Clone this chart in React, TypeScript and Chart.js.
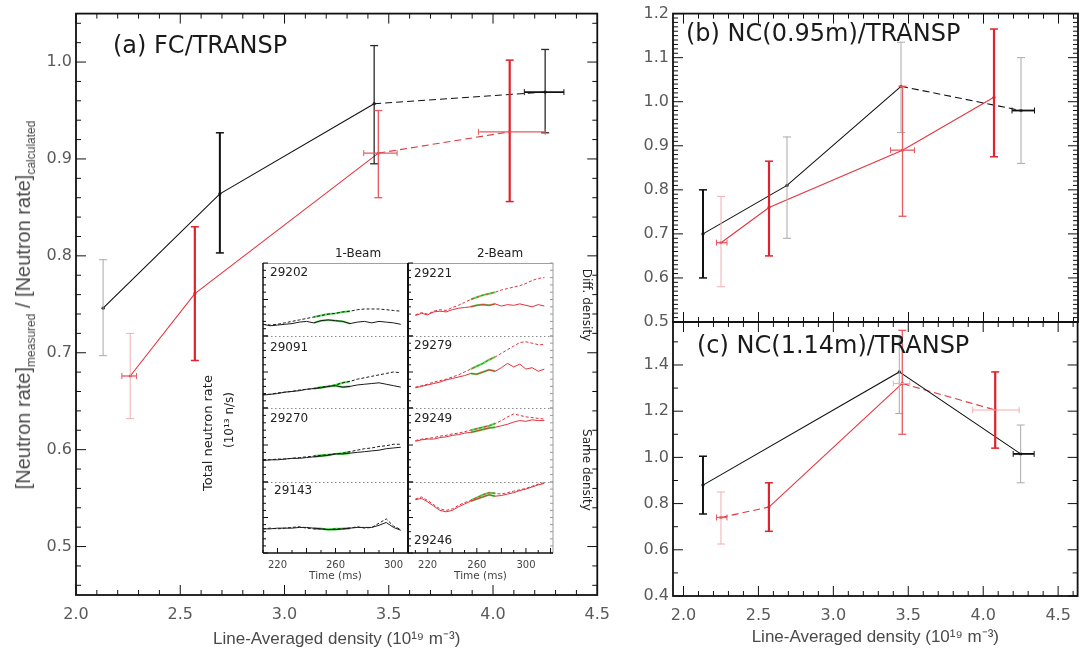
import React, { useEffect, useRef } from "react";
import { Chart, registerables } from "chart.js";
Chart.register(...registerables);

// ---------------- DATA ----------------
const DENSITY_TICKS = [2.0, 2.5, 3.0, 3.5, 4.0, 4.5];
const A_Y_TICKS = [0.5, 0.6, 0.7, 0.8, 0.9, 1.0];
const B_Y_TICKS = [0.5, 0.6, 0.7, 0.8, 0.9, 1.0, 1.1, 1.2];
const C_Y_TICKS = [0.4, 0.6, 0.8, 1.0, 1.2, 1.4];
const TIME_TICKS = [220, 260, 300];

// (a) FC/TRANSP
const aBlackX = [2.13, 2.69, 3.43, 4.25];
const aBlackY = [0.746, 0.864, 0.957, 0.969];
const aBlackYLo = [0.697, 0.803, 0.895, 0.927];
const aBlackYHi = [0.796, 0.927, 1.017, 1.013];
const aBlackXLo = [null, null, null, 4.15];
const aBlackXHi = [null, null, null, 4.34];
const aRedX = [2.26, 2.57, 3.45, 4.08];
const aRedY = [0.676, 0.761, 0.906, 0.928];
const aRedYLo = [0.632, 0.692, 0.86, 0.856];
const aRedYHi = [0.72, 0.83, 0.95, 1.002];
const aRedXLo = [2.22, null, 3.38, 3.93];
const aRedXHi = [2.29, null, 3.54, 4.25];

// (b) NC(0.95m)/TRANSP
const bBlackX = [2.13, 2.69, 3.45, 4.25];
const bBlackY = [0.70, 0.81, 1.035, 0.98];
const bBlackYLo = [0.60, 0.69, 0.93, 0.86];
const bBlackYHi = [0.80, 0.92, 1.135, 1.10];
const bBlackXLo = [null, null, null, 4.19];
const bBlackXHi = [null, null, null, 4.34];
const bRedX = [2.25, 2.57, 3.46, 4.07];
const bRedY = [0.68, 0.76, 0.89, 1.01];
const bRedYLo = [0.58, 0.65, 0.74, 0.875];
const bRedYHi = [0.785, 0.865, 1.035, 1.165];
const bRedXLo = [2.22, null, 3.38, null];
const bRedXHi = [2.29, null, 3.54, null];

// (c) NC(1.14m)/TRANSP
const cBlackX = [2.13, 3.44, 4.25];
const cBlackY = [0.88, 1.37, 1.015];
const cBlackYLo = [0.755, 1.19, 0.89];
const cBlackYHi = [1.005, 1.52, 1.14];
const cBlackXLo = [null, null, 4.2];
const cBlackXHi = [null, null, 4.34];
const cRedX = [2.25, 2.57, 3.46, 4.08];
const cRedY = [0.74, 0.785, 1.32, 1.205];
const cRedYLo = [0.625, 0.68, 1.10, 1.04];
const cRedYHi = [0.85, 0.89, 1.55, 1.37];
const cRedXLo = [2.22, null, 3.40, 3.93];
const cRedXHi = [2.29, null, 3.51, 4.24];

// Inset: total neutron rate traces (arbitrary units per row)
const LEFT_SHOTS = ["29202", "29091", "29270", "29143"];
const RIGHT_SHOTS = ["29221", "29279", "29249", "29246"];
const LEFT_TIMES = [210, 215, 220, 225, 230, 235, 240, 245, 250, 255, 260, 265, 270, 275, 280, 285, 290, 295, 300, 305];
const RIGHT_TIMES = [210, 215, 220, 225, 230, 235, 240, 245, 250, 255, 260, 265, 270, 275, 280, 285, 290, 295, 300, 305, 310, 315];
const LEFT_GREEN = [245, 270];
const RIGHT_GREEN = [255, 275];

const L1_UPPER = [1.6, 1.5, 1.6, 1.8, 2.0, 2.2, 2.4, 2.6, 2.8, 3.0, 3.1, 3.3, 3.4, 3.6, 3.7, 3.7, 3.7, 3.6, 3.5, 3.4];
const L1_LOWER = [1.6, 1.4, 1.5, 1.6, 1.7, 1.9, 2.0, 1.8, 2.1, 2.2, 2.1, 2.0, 1.7, 1.9, 2.0, 1.8, 2.0, 1.9, 1.8, 1.6];
const L2_UPPER = [1.9, 1.9, 2.1, 2.2, 2.3, 2.5, 2.6, 2.7, 2.9, 3.0, 3.2, 3.5, 3.7, 4.0, 4.2, 4.4, 4.6, 4.8, 5.0, 4.9];
const L2_LOWER = [1.8, 1.9, 2.0, 2.2, 2.3, 2.4, 2.6, 2.7, 2.8, 3.0, 3.1, 2.9, 3.0, 3.2, 3.3, 3.4, 3.5, 3.3, 3.1, 2.9];
const L3_UPPER = [3.0, 3.0, 3.1, 3.1, 3.2, 3.3, 3.4, 3.5, 3.6, 3.7, 3.8, 3.9, 4.1, 4.3, 4.5, 4.6, 4.8, 4.9, 5.1, 5.1];
const L3_LOWER = [2.9, 3.0, 3.0, 3.1, 3.2, 3.2, 3.3, 3.4, 3.5, 3.6, 3.8, 3.8, 3.9, 4.0, 4.1, 4.2, 4.3, 4.5, 4.6, 4.7];
const L4_UPPER = [3.4, 3.5, 3.4, 3.5, 3.6, 3.7, 3.5, 3.4, 3.4, 3.3, 3.4, 3.4, 3.5, 3.7, 3.5, 3.6, 4.2, 4.8, 3.8, 3.3];
const L4_LOWER = [3.4, 3.4, 3.5, 3.5, 3.5, 3.6, 3.6, 3.5, 3.4, 3.3, 3.3, 3.4, 3.5, 3.6, 3.6, 3.6, 3.9, 4.3, 3.6, 3.2];

const R1_UPPER = [2.9, 3.2, 3.0, 3.4, 3.6, 3.5, 3.9, 4.2, 4.6, 5.0, 5.3, 5.6, 5.8, 6.0, 6.3, 6.5, 6.7, 6.9, 7.2, 7.6, 7.9, 8.0];
const R1_LOWER = [2.8, 3.1, 2.9, 3.3, 3.4, 3.3, 3.6, 3.8, 3.9, 4.0, 4.2, 4.3, 4.2, 4.4, 4.1, 4.3, 4.2, 4.4, 4.2, 4.0, 4.3, 4.1];
const R2_UPPER = [2.9, 3.1, 3.3, 3.6, 3.8, 4.0, 4.3, 4.6, 5.0, 5.4, 5.8, 6.2, 6.7, 7.1, 7.6, 8.1, 8.6, 9.1, 9.2, 9.0, 8.8, 8.8];
const R2_LOWER = [2.8, 3.0, 3.2, 3.4, 3.6, 3.9, 4.1, 4.3, 4.5, 4.8, 4.7, 5.0, 5.3, 5.1, 5.6, 6.2, 5.7, 6.1, 5.4, 5.6, 5.1, 5.4];
const R3_UPPER = [5.6, 5.8, 5.9, 6.0, 6.2, 6.3, 6.5, 6.6, 6.8, 7.0, 7.2, 7.4, 7.6, 7.9, 8.3, 8.8, 9.2, 9.0, 8.8, 8.7, 8.6, 8.5];
const R3_LOWER = [5.5, 5.7, 5.8, 5.8, 6.0, 6.1, 6.3, 6.4, 6.6, 6.7, 6.9, 7.1, 7.3, 7.4, 7.6, 7.8, 8.1, 8.3, 8.2, 8.4, 8.3, 8.3];
const R4_UPPER = [7.6, 7.9, 7.4, 6.8, 6.2, 6.0, 6.2, 6.7, 7.1, 7.4, 7.8, 8.2, 8.5, 8.4, 8.3, 8.5, 8.7, 8.9, 9.1, 9.4, 9.7, 9.9];
const R4_LOWER = [7.5, 7.7, 7.2, 6.6, 6.0, 5.8, 6.0, 6.5, 6.9, 7.3, 7.6, 7.9, 8.2, 8.0, 8.1, 8.3, 8.5, 8.8, 9.0, 9.3, 9.6, 9.8];

// ---------------- STYLES / HELPERS ----------------
const TICK_FONT = "DejaVu Sans";
const TITLE_FONT = "Liberation Sans";
const BLACK = "#111111";
const RED = "#e3363f";
const GREEN = "#4fdc4f";
const ERR_STYLES: Record<string, [string, number]> = {
  k2: ["#111111", 2],
  k1: ["#2a2a2a", 1.3],
  g: ["#a9a9a9", 1],
  r2: ["#e1222c", 2.2],
  r1: ["#e65a62", 1.3],
  p: ["#f3aeb0", 1],
};

function strokeLine(ctx: CanvasRenderingContext2D, x1: number, y1: number, x2: number, y2: number) {
  ctx.beginPath();
  ctx.moveTo(x1, y1);
  ctx.lineTo(x2, y2);
  ctx.stroke();
}

function framePlugin(p: { xMajor: number; xMinor: number; yMajor: number; yMinor: number }) {
  return {
    id: "idlframe",
    afterDraw(chart: any) {
      const { ctx, chartArea: a } = chart;
      const xs = chart.scales.x;
      const ys = chart.scales.y;
      ctx.save();
      ctx.strokeStyle = "#111";
      ctx.lineWidth = 1;
      const xr = Math.round(p.xMajor / p.xMinor);
      for (let n = Math.ceil(xs.min / p.xMinor - 1e-6); n <= Math.floor(xs.max / p.xMinor + 1e-6); n++) {
        const px = xs.getPixelForValue(n * p.xMinor);
        const L = n % xr === 0 ? 10 : 5;
        strokeLine(ctx, px, a.bottom, px, a.bottom - L);
        strokeLine(ctx, px, a.top, px, a.top + L);
      }
      const yr = Math.round(p.yMajor / p.yMinor);
      for (let n = Math.ceil(ys.min / p.yMinor - 1e-6); n <= Math.floor(ys.max / p.yMinor + 1e-6); n++) {
        const py = ys.getPixelForValue(n * p.yMinor);
        const L = n % yr === 0 ? 10 : 5;
        strokeLine(ctx, a.left, py, a.left + L, py);
        strokeLine(ctx, a.right, py, a.right - L, py);
      }
      ctx.lineWidth = 1.8;
      ctx.strokeRect(a.left, a.top, a.right - a.left, a.bottom - a.top);
      ctx.restore();
    },
  };
}

const errPlugin = {
  id: "errbars",
  afterDatasetsDraw(chart: any) {
    const ctx: CanvasRenderingContext2D = chart.ctx;
    const xs = chart.scales.x;
    const ys = chart.scales.y;
    chart.data.datasets.forEach((ds: any) => {
      const e = ds.err;
      if (!e) return;
      e.xs.forEach((xv: number, i: number) => {
        const px = xs.getPixelForValue(xv);
        const py = ys.getPixelForValue(e.ys[i]);
        ctx.save();
        if (e.yLo[i] != null && e.vStyles[i]) {
          const [col, lw] = ERR_STYLES[e.vStyles[i]];
          ctx.strokeStyle = col;
          ctx.lineWidth = lw;
          const a = ys.getPixelForValue(e.yLo[i]);
          const b = ys.getPixelForValue(e.yHi[i]);
          strokeLine(ctx, px, a, px, b);
          ctx.lineWidth = Math.min(lw, 1.5);
          strokeLine(ctx, px - 4, a, px + 4, a);
          strokeLine(ctx, px - 4, b, px + 4, b);
        }
        if (e.xLo[i] != null && e.hStyles[i]) {
          const [col, lw] = ERR_STYLES[e.hStyles[i]];
          ctx.strokeStyle = col;
          ctx.lineWidth = Math.min(lw, 1.8);
          const a = xs.getPixelForValue(e.xLo[i]);
          const b = xs.getPixelForValue(e.xHi[i]);
          strokeLine(ctx, a, py, b, py);
          ctx.lineWidth = 1;
          strokeLine(ctx, a, py - 3, a, py + 3);
          strokeLine(ctx, b, py - 3, b, py + 3);
        }
        ctx.restore();
      });
    });
  },
};

type Series = {
  xs: number[]; ys: number[]; yLo: number[]; yHi: number[];
  xLo: (number | null)[]; xHi: (number | null)[];
  color: string; vStyles: string[]; hStyles: (string | null)[]; dashSegs: number[];
};

function panelConfig(p: {
  xMin: number; xMax: number; yMin: number; yMax: number;
  yTicks: number[]; yMajor: number; yMinor: number;
  left: number; top: number; right: number; bottom: number; w: number; h: number;
  xLabels: boolean; xTitle: boolean; titlePadBottom: number;
  series: Series[];
}): any {
  return {
    type: "line",
    data: {
      datasets: p.series.map((s) => ({
        data: s.xs.map((x, i) => ({ x, y: s.ys[i] })),
        borderColor: s.color,
        backgroundColor: s.color,
        borderWidth: 1.1,
        pointRadius: 1.6,
        pointBorderWidth: 0,
        tension: 0,
        fill: false,
        segment: {
          borderDash: (ctx: any) => (s.dashSegs.includes(ctx.p0DataIndex) ? [7, 4] : undefined),
        },
        err: s,
      })),
    },
    options: {
      animation: false,
      responsive: false,
      events: [],
      layout: { padding: { left: 0, top: p.top, right: p.w - p.right, bottom: 0 }, autoPadding: false },
      plugins: { legend: { display: false }, tooltip: { enabled: false } },
      scales: {
        x: {
          type: "linear",
          min: p.xMin,
          max: p.xMax,
          afterBuildTicks: (s: any) => { s.ticks = DENSITY_TICKS.map((v) => ({ value: v })); },
          afterFit: (s: any) => { s.height = p.h - p.bottom; },
          grid: { display: false, drawTicks: false },
          border: { display: false },
          ticks: {
            display: p.xLabels, padding: 10, autoSkip: false, maxRotation: 0,
            font: { family: TICK_FONT, size: 16 }, color: "#5a5a5a",
            callback: (v: any) => Number(v).toFixed(1),
          },
          title: {
            display: p.xTitle,
            text: "Line-Averaged density (10¹⁹ m⁻³)",
            font: { family: TITLE_FONT, size: 17 },
            color: "#4a4a4a",
            padding: { top: 0, bottom: p.titlePadBottom },
          },
        },
        y: {
          type: "linear",
          min: p.yMin,
          max: p.yMax,
          afterBuildTicks: (s: any) => { s.ticks = p.yTicks.map((v) => ({ value: v })); },
          afterFit: (s: any) => { s.width = p.left; },
          grid: { display: false, drawTicks: false },
          border: { display: false },
          ticks: {
            padding: 4, autoSkip: false,
            font: { family: TICK_FONT, size: 16 }, color: "#5a5a5a",
            callback: (v: any) => Number(v).toFixed(1),
          },
        },
      },
    },
    plugins: [framePlugin({ xMajor: 0.5, xMinor: 0.1, yMajor: p.yMajor, yMinor: p.yMinor }), errPlugin],
  };
}

function cellFrame(o: { rightCol: boolean; bottom: boolean; first: boolean }) {
  return {
    id: "cellframe",
    afterDraw(chart: any) {
      const { ctx, chartArea: a } = chart;
      const xs = chart.scales.x;
      const ys = chart.scales.y;
      ctx.save();
      ctx.lineWidth = 1;
      ctx.strokeStyle = o.first ? "#a0a0a0" : "#8a8a8a";
      ctx.setLineDash(o.first ? [] : [1.5, 2.5]);
      strokeLine(ctx, a.left, a.top + 0.5, a.right, a.top + 0.5);
      ctx.setLineDash([]);
      ctx.strokeStyle = "#111";
      for (let v = 0; v <= 10; v++) {
        const py = ys.getPixelForValue(v);
        const L = v % 5 === 0 ? 5 : 3;
        strokeLine(ctx, a.left, py, a.left + L, py);
      }
      ctx.lineWidth = o.rightCol ? 2 : 1.5;
      strokeLine(ctx, a.left, a.top, a.left, a.bottom);
      if (o.rightCol) {
        ctx.strokeStyle = "#9a9a9a";
        ctx.lineWidth = 1;
        strokeLine(ctx, a.right, a.top, a.right, a.bottom);
        for (let v = 0; v <= 10; v++) {
          const py = ys.getPixelForValue(v);
          strokeLine(ctx, a.right - 3, py, a.right, py);
        }
      }
      if (o.bottom) {
        ctx.strokeStyle = "#111";
        ctx.lineWidth = 1;
        for (let t = Math.ceil(xs.min / 10) * 10; t <= xs.max; t += 10) {
          const px = xs.getPixelForValue(t);
          const L = t % 20 === 0 ? 5 : 3;
          strokeLine(ctx, px, a.bottom, px, a.bottom - L);
        }
        ctx.lineWidth = 1.5;
        strokeLine(ctx, a.left, a.bottom, a.right, a.bottom);
      }
      ctx.restore();
    },
  };
}

function cellConfig(c: {
  times: number[]; tMin: number; tMax: number; upper: number[]; lower: number[];
  color: string; green: number[]; bottom: boolean; rightCol: boolean; first: boolean; extra: number;
}): any {
  const mk = (vals: number[], color: string, dash: number[], width: number) => ({
    data: c.times.map((t, i) => ({ x: t, y: vals[i] })),
    borderColor: color, borderWidth: width, borderDash: dash, pointRadius: 0, tension: 0, fill: false,
  });
  const mkGreen = (vals: number[]) => ({
    data: c.times.map((t, i) => ({ x: t, y: t >= c.green[0] && t <= c.green[1] ? vals[i] : null })),
    borderColor: GREEN, borderWidth: 2, pointRadius: 0, tension: 0, fill: false, spanGaps: false,
  });
  return {
    type: "line",
    data: {
      datasets: [
        mk(c.upper, c.color, [3, 2], 1),
        mk(c.lower, c.color, [], 1),
        mkGreen(c.upper),
        mkGreen(c.lower),
      ],
    },
    options: {
      animation: false,
      responsive: false,
      events: [],
      layout: { padding: { left: 4, right: 4, top: 2, bottom: c.bottom ? 0 : 2 }, autoPadding: false },
      plugins: { legend: { display: false }, tooltip: { enabled: false } },
      scales: {
        x: {
          type: "linear", min: c.tMin, max: c.tMax, display: c.bottom,
          afterBuildTicks: (s: any) => { s.ticks = TIME_TICKS.map((v) => ({ value: v })); },
          afterFit: (s: any) => { s.height = c.extra; },
          grid: { display: false, drawTicks: false },
          border: { display: false },
          ticks: { padding: 6, autoSkip: false, maxRotation: 0, font: { family: TICK_FONT, size: 10 }, color: "#444" },
          title: { display: true, text: "Time (ms)", font: { family: TICK_FONT, size: 10.5 }, color: "#444", padding: { top: 0, bottom: 5 } },
        },
        y: { type: "linear", min: 0, max: 10, display: false },
      },
    },
    plugins: [cellFrame({ rightCol: c.rightCol, bottom: c.bottom, first: c.first })],
  };
}

// ---------------- COMPONENTS ----------------
function ChartBox(props: { left: number; top: number; width: number; height: number; make: () => any }) {
  const ref = useRef<HTMLCanvasElement>(null);
  useEffect(() => {
    const chart = new Chart(ref.current as HTMLCanvasElement, props.make());
    return () => chart.destroy();
  }, []);
  return (
    <canvas
      ref={ref}
      width={props.width}
      height={props.height}
      style={{ position: "absolute", left: props.left, top: props.top, width: props.width, height: props.height }}
    />
  );
}

function Txt(p: { x: number; y: number; size: number; family?: string; color?: string; rot?: number; anchor?: "left" | "center"; children: any }) {
  const tx = p.anchor === "left" ? "0" : "-50%";
  return (
    <div
      style={{
        position: "absolute", left: p.x, top: p.y, whiteSpace: "nowrap", lineHeight: 1,
        fontFamily: p.family || TICK_FONT, fontSize: p.size, color: p.color || "#222",
        transform: `translate(${tx},-50%)${p.rot ? ` rotate(${p.rot}deg)` : ""}`,
        transformOrigin: p.anchor === "left" ? "left center" : "center center",
      }}
    >
      {p.children}
    </div>
  );
}

const ROW_TOPS = [263, 336, 408, 482];
const ROW_HEIGHTS = [73, 72, 74, 71];
const LEFT_COL_X = 263;
const RIGHT_COL_X = 408;
const COL_W = 145;

export default function App() {
  useEffect(() => {
    document.body.style.margin = "0";
    document.body.style.background = "#fff";
  }, []);

  const aSeries: Series[] = [
    { xs: aBlackX, ys: aBlackY, yLo: aBlackYLo, yHi: aBlackYHi, xLo: aBlackXLo, xHi: aBlackXHi, color: BLACK,
      vStyles: ["g", "k2", "k1", "k1"], hStyles: [null, null, null, "k2"], dashSegs: [2] },
    { xs: aRedX, ys: aRedY, yLo: aRedYLo, yHi: aRedYHi, xLo: aRedXLo, xHi: aRedXHi, color: RED,
      vStyles: ["p", "r2", "r1", "r2"], hStyles: ["r1", null, "r1", "r1"], dashSegs: [2] },
  ];
  const bSeries: Series[] = [
    { xs: bBlackX, ys: bBlackY, yLo: bBlackYLo, yHi: bBlackYHi, xLo: bBlackXLo, xHi: bBlackXHi, color: BLACK,
      vStyles: ["k2", "g", "g", "g"], hStyles: [null, null, null, "k2"], dashSegs: [2] },
    { xs: bRedX, ys: bRedY, yLo: bRedYLo, yHi: bRedYHi, xLo: bRedXLo, xHi: bRedXHi, color: RED,
      vStyles: ["p", "r2", "r1", "r2"], hStyles: ["r1", null, "r1", null], dashSegs: [] },
  ];
  const cSeries: Series[] = [
    { xs: cBlackX, ys: cBlackY, yLo: cBlackYLo, yHi: cBlackYHi, xLo: cBlackXLo, xHi: cBlackXHi, color: BLACK,
      vStyles: ["k2", "g", "g"], hStyles: [null, null, "k2"], dashSegs: [] },
    { xs: cRedX, ys: cRedY, yLo: cRedYLo, yHi: cRedYHi, xLo: cRedXLo, xHi: cRedXHi, color: RED,
      vStyles: ["p", "r2", "r1", "r2"], hStyles: ["r1", null, "p", "p"], dashSegs: [0, 2] },
  ];

  const leftTraces = [[L1_UPPER, L1_LOWER], [L2_UPPER, L2_LOWER], [L3_UPPER, L3_LOWER], [L4_UPPER, L4_LOWER]];
  const rightTraces = [[R1_UPPER, R1_LOWER], [R2_UPPER, R2_LOWER], [R3_UPPER, R3_LOWER], [R4_UPPER, R4_LOWER]];

  const cells: any[] = [];
  [0, 1].forEach((col) => {
    ROW_TOPS.forEach((rt, r) => {
      const bottom = r === 3;
      const extra = bottom ? 35 : 0;
      const colX = col === 0 ? LEFT_COL_X : RIGHT_COL_X;
      const traces = col === 0 ? leftTraces[r] : rightTraces[r];
      cells.push(
        <ChartBox
          key={`cell-${col}-${r}`}
          left={colX - 4}
          top={rt - 2}
          width={COL_W + 8}
          height={ROW_HEIGHTS[r] + 2 + (bottom ? extra : 2)}
          make={() =>
            cellConfig({
              times: col === 0 ? LEFT_TIMES : RIGHT_TIMES,
              tMin: col === 0 ? 210 : 204,
              tMax: col === 0 ? 310 : 322,
              upper: traces[0],
              lower: traces[1],
              color: col === 0 ? "#1a1a1a" : "#e0323c",
              green: col === 0 ? LEFT_GREEN : RIGHT_GREEN,
              bottom,
              rightCol: col === 1,
              first: r === 0,
              extra,
            })
          }
        />
      );
    });
  });

  return (
    <div style={{ position: "absolute", left: 0, top: 0, width: 1081, height: 653, background: "#fff", overflow: "hidden" }}>
      <ChartBox left={0} top={0} width={620} height={653}
        make={() => panelConfig({
          xMin: 2.0, xMax: 4.5, yMin: 0.45, yMax: 1.05, yTicks: A_Y_TICKS, yMajor: 0.1, yMinor: 0.02,
          left: 76, top: 11, right: 606, bottom: 595, w: 620, h: 653,
          xLabels: true, xTitle: true, titlePadBottom: 3, series: aSeries,
        })} />
      <ChartBox left={600} top={0} width={481} height={336}
        make={() => panelConfig({
          xMin: 1.93, xMax: 4.63, yMin: 0.5, yMax: 1.2, yTicks: B_Y_TICKS, yMajor: 0.1, yMinor: 0.01,
          left: 73, top: 12, right: 478, bottom: 322, w: 481, h: 336,
          xLabels: false, xTitle: false, titlePadBottom: 0, series: bSeries,
        })} />
      <ChartBox left={600} top={300} width={481} height={353}
        make={() => panelConfig({
          xMin: 1.93, xMax: 4.63, yMin: 0.4, yMax: 1.586, yTicks: C_Y_TICKS, yMajor: 0.2, yMinor: 0.1,
          left: 73, top: 22, right: 478, bottom: 296, w: 481, h: 353,
          xLabels: true, xTitle: true, titlePadBottom: 5, series: cSeries,
        })} />

      {cells}

      {/* panel labels */}
      <Txt x={113} y={45} size={24} anchor="left" color="#1a1a1a">(a) FC/TRANSP</Txt>
      <Txt x={686} y={33} size={24} anchor="left" color="#1a1a1a">(b) NC(0.95m)/TRANSP</Txt>
      <Txt x={697} y={345} size={24} anchor="left" color="#1a1a1a">(c) NC(1.14m)/TRANSP</Txt>

      {/* (a) y-axis title */}
      <div style={{
        position: "absolute", left: 25, top: 305, transform: "translate(-50%,-50%) rotate(-90deg)",
        whiteSpace: "nowrap", fontFamily: TITLE_FONT, fontSize: 20, color: "#4a4a4a", lineHeight: 1,
      }}>
        [Neutron rate]<sub style={{ fontSize: 12 }}>measured</sub> / [Neutron rate]<sub style={{ fontSize: 12 }}>calculated</sub>
      </div>

      {/* inset labels */}
      <Txt x={358} y={253} size={12}>1-Beam</Txt>
      <Txt x={500} y={253} size={12}>2-Beam</Txt>
      <Txt x={270} y={272} size={12} anchor="left">{LEFT_SHOTS[0]}</Txt>
      <Txt x={270} y={347} size={12} anchor="left">{LEFT_SHOTS[1]}</Txt>
      <Txt x={270} y={418} size={12} anchor="left">{LEFT_SHOTS[2]}</Txt>
      <Txt x={274} y={490} size={12} anchor="left">{LEFT_SHOTS[3]}</Txt>
      <Txt x={414} y={273} size={12} anchor="left">{RIGHT_SHOTS[0]}</Txt>
      <Txt x={414} y={345} size={12} anchor="left">{RIGHT_SHOTS[1]}</Txt>
      <Txt x={414} y={418} size={12} anchor="left">{RIGHT_SHOTS[2]}</Txt>
      <Txt x={414} y={540} size={12} anchor="left">{RIGHT_SHOTS[3]}</Txt>
      <Txt x={207} y={433} size={13} rot={-90} color="#222">Total neutron rate</Txt>
      <Txt x={229} y={420} size={12} rot={-90} color="#222">(10¹³ n/s)</Txt>
      <Txt x={587} y={305} size={12} rot={90} color="#222">Diff. density</Txt>
      <Txt x={587} y={470} size={12} rot={90} color="#222">Same density</Txt>
    </div>
  );
}
